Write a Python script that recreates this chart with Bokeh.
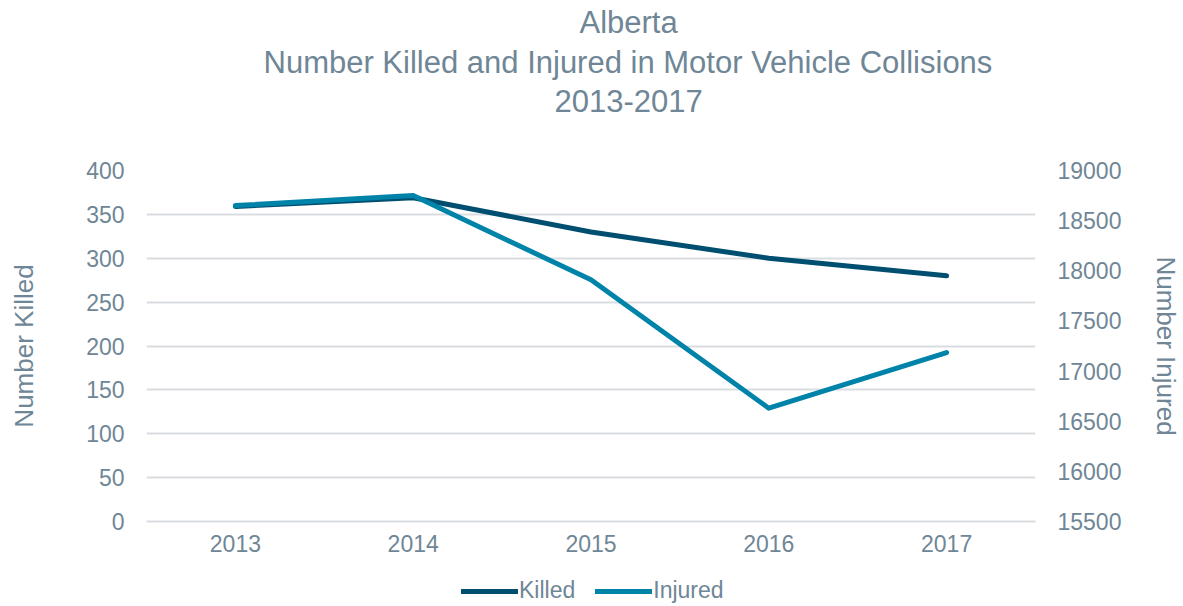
import numpy as np
from bokeh.plotting import figure
from bokeh.layouts import column
from bokeh.models import Range1d, LinearAxis, Legend, LegendItem, Title, FixedTicker
from bokeh.embed import file_html
from bokeh.resources import INLINE

years = ["2013", "2014", "2015", "2016", "2017"]
killed = [359, 369, 330, 300, 280]
injured = [18650, 18750, 17910, 16630, 17185]

title_lines = ["Alberta", "Number Killed and Injured in Motor Vehicle Collisions", "2013-2017"]
left_ticks = [0, 50, 100, 150, 200, 250, 300, 350, 400]
right_ticks = [15500, 16000, 16500, 17000, 17500, 18000, 18500, 19000]
series_names = ["Killed", "Injured"]

TXT = "#6f8696"
FONT = "Liberation Sans"
KILLED_C = "#004f71"
INJ_C = "#0083a9"
GRID_C = "#d9dde2"

p = figure(frame_width=889, frame_height=351, x_range=years, y_range=Range1d(0, 400),
           output_backend="svg", toolbar_location=None,
           min_border_left=146, min_border_right=140, min_border_top=170, min_border_bottom=50)
p.title = None
p.outline_line_color = None
p.extra_y_ranges = {"inj": Range1d(15500, 19000)}

# spacer between frame and title block (first "above" item sits nearest the frame)
p.add_layout(Title(text=" ", text_font=FONT, text_font_size="4px", standoff=43,
                   vertical_align="middle"), "above")
title_offsets = [433, 117, 408]   # left offsets so that each line centres at the same x
title_standoffs = [5, 1, 15]
for t, off, so in reversed(list(zip(title_lines, title_offsets, title_standoffs))):
    p.add_layout(Title(text=t, align="left", offset=off, vertical_align="middle",
                       text_font=FONT, text_font_size="31px", text_color=TXT,
                       text_font_style="normal", standoff=so), "above")

ya = p.yaxis[0]
ya.ticker = FixedTicker(ticks=left_ticks)
ya.axis_label = "Number Killed"
ya.axis_label_standoff = 44

ra = LinearAxis(y_range_name="inj", ticker=FixedTicker(ticks=right_ticks), axis_label="Number Injured")
p.add_layout(ra, "right")
ra.axis_label_standoff = 27

for ax in [ya, ra]:
    ax.axis_line_color = None
    ax.major_tick_line_color = None
    ax.minor_tick_line_color = None
    ax.major_label_text_font = FONT
    ax.major_label_text_font_size = "23px"
    ax.major_label_text_color = TXT
    ax.major_label_standoff = 16
    ax.axis_label_text_font = FONT
    ax.axis_label_text_font_size = "26px"
    ax.axis_label_text_color = TXT
    ax.axis_label_text_font_style = "normal"

xa = p.xaxis[0]
xa.axis_line_color = GRID_C
xa.axis_line_width = 2
xa.major_tick_line_color = None
xa.minor_tick_line_color = None
xa.major_tick_out = 0
xa.major_label_text_font = FONT
xa.major_label_text_font_size = "23px"
xa.major_label_text_color = TXT
xa.major_label_standoff = 13
xa.axis_label_standoff = 0

p.xgrid.grid_line_color = None
p.ygrid.ticker = FixedTicker(ticks=left_ticks)
p.ygrid.grid_line_color = GRID_C
p.ygrid.grid_line_width = 2

p.line(years, killed, line_color=KILLED_C, line_width=5, line_cap="round", line_join="round")
p.line(years, injured, y_range_name="inj", line_color=INJ_C, line_width=5, line_cap="round", line_join="round")

# legend strip below the chart (renderers carry only NaN, so only their legend swatches show)
lg = figure(width=1175, height=35, output_backend="svg", toolbar_location=None,
            x_axis_location=None, y_axis_location=None,
            min_border_left=0, min_border_right=0, min_border_top=0, min_border_bottom=0)
lg.outline_line_color = None
lg.grid.grid_line_color = None
nan = np.array([np.nan])
lk = lg.line(x=nan, y=nan, line_color=KILLED_C, line_width=5, line_cap="round")
li = lg.line(x=nan, y=nan, line_color=INJ_C, line_width=5, line_cap="round")

legend = Legend(items=[LegendItem(label=series_names[0], renderers=[lk]),
                       LegendItem(label=series_names[1], renderers=[li])],
                orientation="horizontal", location=(315, 2))
legend.label_text_font = FONT
legend.label_text_font_size = "23px"
legend.label_text_color = TXT
legend.glyph_width = 57
legend.glyph_height = 20
legend.label_height = 20
legend.label_standoff = 1
legend.spacing = 20
legend.border_line_color = None
legend.background_fill_alpha = 0
legend.padding = 0
legend.margin = 0
lg.add_layout(legend, "center")

layout = column(p, lg, spacing=0)
open("out.html", "w").write(file_html(layout, INLINE))
